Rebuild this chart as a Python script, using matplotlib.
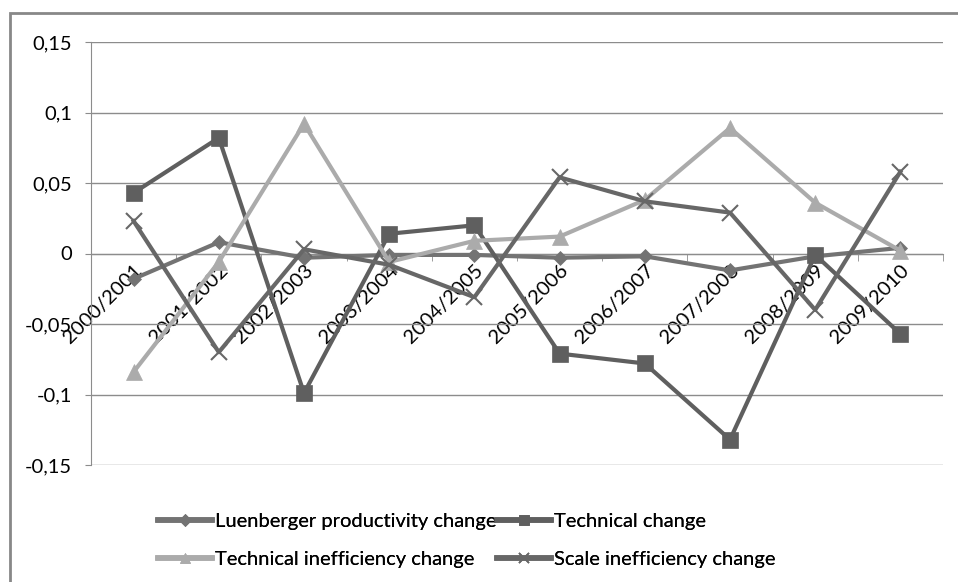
import matplotlib.pyplot as plt
from matplotlib.lines import Line2D
from matplotlib.patches import Rectangle
from matplotlib.ticker import FuncFormatter

periods = ["2000/2001", "2001/2002", "2002/2003", "2003/2004", "2004/2005",
           "2005/2006", "2006/2007", "2007/2008", "2008/2009", "2009/2010"]
luenberger = [-0.018, 0.008, -0.003, -0.001, -0.001, -0.003, -0.002, -0.012, -0.002, 0.004]
technical = [0.043, 0.082, -0.099, 0.014, 0.020, -0.071, -0.078, -0.132, -0.001, -0.057]
tech_ineff = [-0.084, -0.006, 0.092, -0.006, 0.009, 0.012, 0.038, 0.089, 0.036, 0.002]
scale_ineff = [0.023, -0.070, 0.003, -0.008, -0.031, 0.054, 0.037, 0.029, -0.040, 0.058]
y_ticks = [-0.15, -0.1, -0.05, 0, 0.05, 0.1, 0.15]

plt.rcParams["font.family"] = ["Lato", "DejaVu Sans"]
FS = 14.5

fig = plt.figure(figsize=(9.58, 5.82), dpi=100)
fig.patches.append(Rectangle((10 / 958, -0.1), 1.2, 1 - 13 / 582 + 0.1,
                             transform=fig.transFigure, fill=False,
                             edgecolor="#888888", linewidth=2.0))
ax = fig.add_axes([91 / 958, 1 - 465 / 582, (943 - 91) / 958, (465 - 42) / 582])

x = list(range(len(periods)))
series = [
    ("Luenberger productivity change", luenberger, "#737373", "D", 7),
    ("Technical change", technical, "#5f5f5f", "s", 12),
    ("Technical inefficiency change", tech_ineff, "#ababab", "^", 12),
    ("Scale inefficiency change", scale_ineff, "#676767", "x", 12),
]
for name, vals, color, marker, ms in series:
    ax.plot(x, vals, color=color, linewidth=3.0, marker=marker, markersize=ms,
            markeredgewidth=1.5 if marker == "x" else 0.5,
            markeredgecolor=color, label=name, zorder=3)

ax.set_xlim(-0.5, len(periods) - 0.5)
ax.set_ylim(-0.15, 0.15)
ax.set_yticks(y_ticks)
ax.yaxis.set_major_formatter(FuncFormatter(lambda v, _: ("%g" % round(v, 2)).replace(".", ",")))
ax.yaxis.grid(True, color="#8c8c8c", linewidth=1.0)
ax.set_axisbelow(True)

for side in ("top", "right"):
    ax.spines[side].set_visible(False)
ax.spines["left"].set_color("#8c8c8c")
ax.spines["bottom"].set_position(("data", 0))
ax.spines["bottom"].set_color("#8c8c8c")

ax.set_xticks(x)
ax.set_xticklabels(periods, rotation=45, ha="right", rotation_mode="anchor")
ax.set_xticks([i + 0.5 for i in range(len(periods))], minor=True)
ax.tick_params(axis="x", which="major", length=0, pad=6, labelsize=FS)
ax.tick_params(axis="x", which="minor", length=5, direction="out", color="#8c8c8c")
ax.tick_params(axis="y", length=4.5, color="#8c8c8c", labelsize=FS, pad=9)

def handle(color, marker, ms):
    return Line2D([], [], color=color, linewidth=4, marker=marker,
                  markersize=max(ms * 0.55, 6),
                  markeredgewidth=1.2 if marker == "x" else 0.5, markeredgecolor=color)

# two legend columns, filled row by row like the original
for col, x0 in ((0, 158), (1, 497)):
    picked = series[col::2]
    leg = fig.legend([handle(s[2], s[3], s[4]) for s in picked], [s[0] for s in picked],
                     loc="lower left", bbox_to_anchor=(x0 / 958, 14 / 582),
                     frameon=False, fontsize=FS, handlelength=2.7, handletextpad=0.15,
                     labelspacing=1.05, borderpad=0, borderaxespad=0)
    fig.add_artist(leg)

fig.savefig("out.png", dpi=100)
